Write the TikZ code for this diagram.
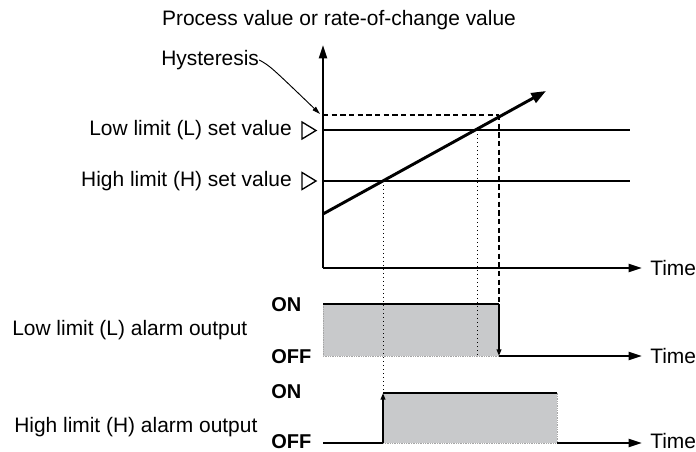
\documentclass[tikz,border=0pt]{standalone}
\usepackage{fontspec}
\setmainfont{Liberation Sans}
\usetikzlibrary{positioning, arrows.meta, calc}
\definecolor{boxgray}{RGB}{200,201,203}

\begin{document}
\begin{tikzpicture}[
		x=0.75pt, y=-0.75pt,
		font=\fontsize{15.7}{18}\selectfont,
		% --- STYLES ---
		axis/.style={
			draw, line width=1.5pt, -{Triangle[length=10pt,width=6pt]}
		},
		setline/.style={
			draw, line width=1pt
		},
		pvline/.style={
			draw, line width=2.2pt, -{Triangle[length=11pt,width=8pt]}
		},
		hystline/.style={
			draw, line width=1.2pt, dash pattern=on 4pt off 2.5pt
		},
		guide/.style={
			draw, line width=0.6pt, dash pattern=on 1pt off 2pt
		},
		signal/.style={
			draw, line width=1.8pt
		},
		edgeline/.style={
			draw, line width=1.8pt, -{Triangle[length=5pt,width=3.5pt]}
		},
		outbox/.style={
			fill=boxgray, draw=gray!70, line width=0.4pt, dash pattern=on 0.5pt off 0.8pt
		},
		marker/.style={
			draw, line width=1pt, line join=miter
		},
		pointer/.style={
			draw, line width=0.7pt, -{Triangle[length=6pt,width=3.5pt]}
		},
		lbl/.style={inner sep=0pt},
		onoff/.style={inner sep=0pt, anchor=west, font=\fontsize{15}{18}\selectfont\bfseries}
	]
	\useasboundingbox (0,0) rectangle (696,452);
	
	% ==========================================
	% 1. Axes of the process value
	% ==========================================
	\coordinate (origin) at (323,268);
	\coordinate (ytop) at (323,45);
	\coordinate (xend) at (642,268);
	\draw [axis] (origin) -- (ytop);
	\draw [axis] (origin) -- (xend);
	\node [lbl, anchor=west] (time1) at (650,268) {Time};
	\node [lbl] (title) at (339,20) {Process value or rate-of-change value};
	
	% ==========================================
	% 2. Set values and hysteresis
	% ==========================================
	\coordinate (lowset) at (323,130);
	\coordinate (lowend) at (630,130);
	\coordinate (highset) at (323,181);
	\coordinate (highend) at (630,181);
	\draw [setline] (lowset) -- (lowend);
	\draw [setline] (highset) -- (highend);
	
	\node [lbl, anchor=east] (lowlbl) at (292,130) {Low limit (L) set value};
	\node [lbl, anchor=east] (highlbl) at (292,181) {High limit (H) set value};
	\draw [marker] (302,122) -- (316,130.5) -- (302,139) -- cycle;
	\draw [marker] (302,172.5) -- (316,181) -- (302,189.5) -- cycle;
	
	\coordinate (hystset) at (323,115);
	\coordinate (hystcross) at (499,115);
	\draw [hystline] (hystset) -- (hystcross);
	\node [lbl, anchor=west] (hystlbl) at (161,60) {Hysteresis};
	\coordinate (hysttip) at (320,114);
	\draw [pointer] (hystlbl.east) .. controls (270,66) .. (hysttip);
	
	% ==========================================
	% 3. Process value
	% ==========================================
	\coordinate (pvstart) at (323,214);
	\coordinate (pvend) at (546,91);
	\draw [pvline] (pvstart) -- (pvend);
	\coordinate (highcross) at (383,181);
	\coordinate (lowcross) at (477,130);
	
	% ==========================================
	% 4. Low limit (L) alarm output
	% ==========================================
	\coordinate (lon) at (323,304);
	\coordinate (loff) at (499,304);
	\coordinate (lbase) at (499,356);
	\coordinate (lend) at (642,356);
	\path [outbox] (lon) rectangle (lbase);
	\draw [guide] (highcross) -- (383,393);
	\draw [guide] (lowcross) -- (477,356);
	\draw [hystline] (hystcross) -- (loff);
	\draw [signal] (lon) -- (loff);
	\draw [edgeline] (loff) -- (lbase);
	\draw [axis] (lbase) -- (lend);
	\node [lbl, anchor=west] (time2) at (650,356) {Time};
	\node [onoff] (lonlbl) at (271,305) {ON};
	\node [onoff] (lofflbl) at (271,357) {OFF};
	\node [lbl, anchor=west] (lowout) at (12,330) {Low limit (L) alarm output};
	
	% ==========================================
	% 5. High limit (H) alarm output
	% ==========================================
	\coordinate (hstart) at (323,443);
	\coordinate (hrise) at (383,443);
	\coordinate (hon) at (383,393);
	\coordinate (hoff) at (557,393);
	\coordinate (hbase) at (557,443);
	\coordinate (hend) at (642,443);
	\path [outbox] (hon) rectangle (hbase);
	\draw [signal] (hstart) -- (hrise);
	\draw [edgeline] (hrise) -- (hon);
	\draw [signal] (hon) -- (hoff);
	\draw [axis] (hbase) -- (hend);
	\node [lbl, anchor=west] (time3) at (650,441) {Time};
	\node [onoff] (honlbl) at (271,392) {ON};
	\node [onoff] (hofflbl) at (271,442) {OFF};
	\node [lbl, anchor=west] (highout) at (14,427) {High limit (H) alarm output};
\end{tikzpicture}
\end{document}
